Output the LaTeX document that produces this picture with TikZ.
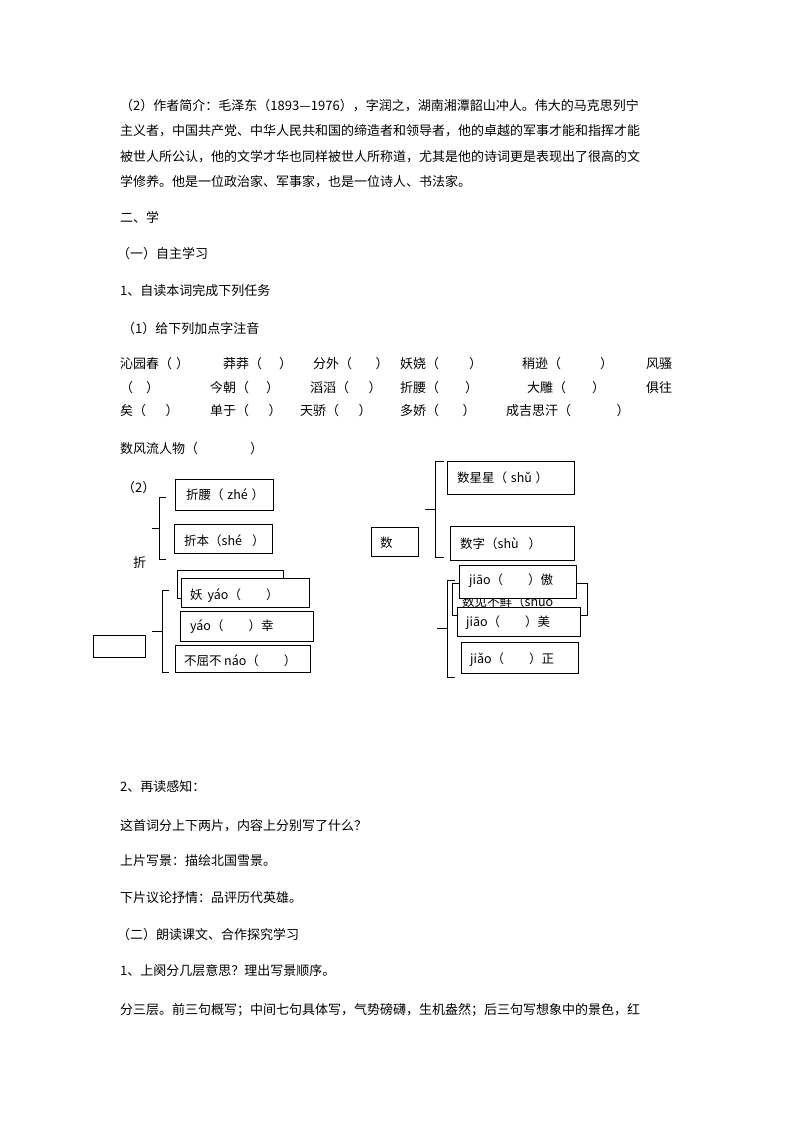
\documentclass[tikz,border=0pt]{standalone}
\usepackage{fontspec}
\setmainfont{Noto Sans CJK SC}
\newcommand{\gp}[1]{\hspace*{#1em}}
\begin{document}
\begin{tikzpicture}[x=1pt,y=-1pt,
  t/.style={anchor=west,inner sep=0pt,font=\fontsize{13}{13}\selectfont},
  bt/.style={anchor=west,inner sep=0pt,font=\fontsize{12.5}{12.5}\selectfont},
  bx/.style={draw,line width=0.8pt,fill=white,anchor=north west,inner sep=0pt},
  br/.style={line width=1pt}]
\useasboundingbox (0,0) rectangle (793,1122);
\fill[white] (0,0) rectangle (793,1122);
\node[t] (p1) at (120,106) {（2）作者简介：毛泽东（1893—1976），字润之，湖南湘潭韶山冲人。伟大的马克思列宁};
\node[t] (p2) at (120,131) {主义者，中国共产党、中华人民共和国的缔造者和领导者，他的卓越的军事才能和指挥才能};
\node[t] (p3) at (120,157) {被世人所公认，他的文学才华也同样被世人所称道，尤其是他的诗词更是表现出了很高的文};
\node[t] (p4) at (120,182) {学修养。他是一位政治家、军事家，也是一位诗人、书法家。};
\node[t] (h1) at (120,217) {二、学};
\node[t] (h2) at (117,254) {（一）自主学习};
\node[t] (h3) at (120,291) {1、自读本词完成下列任务};
\node[t] (h4) at (122,329) {（1）给下列加点字注音};
\node[t] at (120,364) {沁园春（\gp{0.3}）};
\node[t] at (223,364) {莽莽（\gp{1.3}）};
\node[t] at (313,364) {分外（\gp{1.8}）};
\node[t] at (400,364) {妖娆（\gp{2.3}）};
\node[t] at (522,364) {稍逊（\gp{3}）};
\node[t] at (646,364) {风骚};
\node[t] at (120,388) {（\gp{1}）};
\node[t] at (210,388) {今朝（\gp{1.3}）};
\node[t] at (310,388) {滔滔（\gp{1.5}）};
\node[t] at (400,388) {折腰（\gp{2}）};
\node[t] at (527,388) {大雕（\gp{2}）};
\node[t] at (646,388) {俱往};
\node[t] at (120,411) {矣（\gp{1.5}）};
\node[t] at (210,411) {单于（\gp{1.5}）};
\node[t] at (300,411) {天骄（\gp{1.5}）};
\node[t] at (400,411) {多娇（\gp{1.8}）};
\node[t] at (506,411) {成吉思汗（\gp{3.5}）};
\node[t] at (120,449) {数风流人物（\gp{4}）};
% left group
\node[t] (n2) at (122,488) {（2）};
\node[bx,minimum width=98,minimum height=31] (a1) at (175,479) {};
\node[bt] at (186,495) {折腰（\gp{0.3}zhé\gp{0.3}）};
\node[bx,minimum width=98,minimum height=29] (a2) at (174,524) {};
\node[bt] at (184,541) {折本（shé\gp{0.8}）};
\draw[br] (166,497) -- (159,497) -- (159,559) -- (166,559);
\draw[br] (152,528) -- (159,528);
\node[t] (zhe) at (133,563) {折};
\node[bx,minimum width=106,minimum height=28] (b0) at (177,570) {};
\node[bx,minimum width=128,minimum height=29] (b1) at (181,578) {};
\node[bt] at (190,596) {妖\gp{0.4}yáo（\gp{2}）};
\node[bx,minimum width=133,minimum height=30] (b2) at (180,611) {};
\node[bt] at (190,627) {yáo（\gp{2}）幸};
\node[bx,minimum width=135,minimum height=27] (b3) at (175,645) {};
\node[bt] at (184,661) {不屈不\gp{0.2}náo（\gp{2}）};
\draw[br] (169,590) -- (162,590) -- (162,672) -- (169,672);
\draw[br] (152,631) -- (162,631);
\node[bx,minimum width=52,minimum height=22] (e) at (93,635) {};
% right group
\node[bx,minimum width=127,minimum height=33] (c1) at (447,461) {};
\node[bt] at (457,478) {数星星（\gp{0.3}shǔ\gp{0.3}）};
\node[bx,minimum width=124,minimum height=34] (c2) at (450,526) {};
\node[bt] at (460,544) {数字（shù\gp{0.8}）};
\draw[br] (444,461) -- (435,461) -- (435,557) -- (444,557);
\draw[br] (425,509) -- (435,509);
\node[bx,minimum width=47,minimum height=29] (s) at (371,527) {};
\node[bt] at (380,543) {数};
\node[bx,minimum width=135,minimum height=32] (d0) at (452,583) {};
\node[bt] at (462,602) {数见不鲜（shuò};
\node[bx,minimum width=117,minimum height=33] (d1) at (459,565) {};
\node[bt] at (469,581) {jiāo（\gp{2}）傲};
\node[bx,minimum width=123,minimum height=29] (d2) at (457,607) {};
\node[bt] at (466,623) {jiāo（\gp{2}）美};
\node[bx,minimum width=117,minimum height=31] (d3) at (461,642) {};
\node[bt] at (470,660) {jiǎo（\gp{2}）正};
\draw[br] (455,580) -- (447,580) -- (447,677) -- (455,677);
\draw[br] (437,628) -- (447,628);
% lower text
\node[t] at (120,787) {2、再读感知：};
\node[t] at (120,826) {这首词分上下两片，内容上分别写了什么？};
\node[t] at (120,861) {上片写景：描绘北国雪景。};
\node[t] at (120,898) {下片议论抒情：品评历代英雄。};
\node[t] at (117,935) {（二）朗读课文、合作探究学习};
\node[t] at (120,971) {1、上阕分几层意思？理出写景顺序。};
\node[t] at (120,1010) {分三层。前三句概写；中间七句具体写，气势磅礴，生机盎然；后三句写想象中的景色，红};
\end{tikzpicture}
\end{document}
